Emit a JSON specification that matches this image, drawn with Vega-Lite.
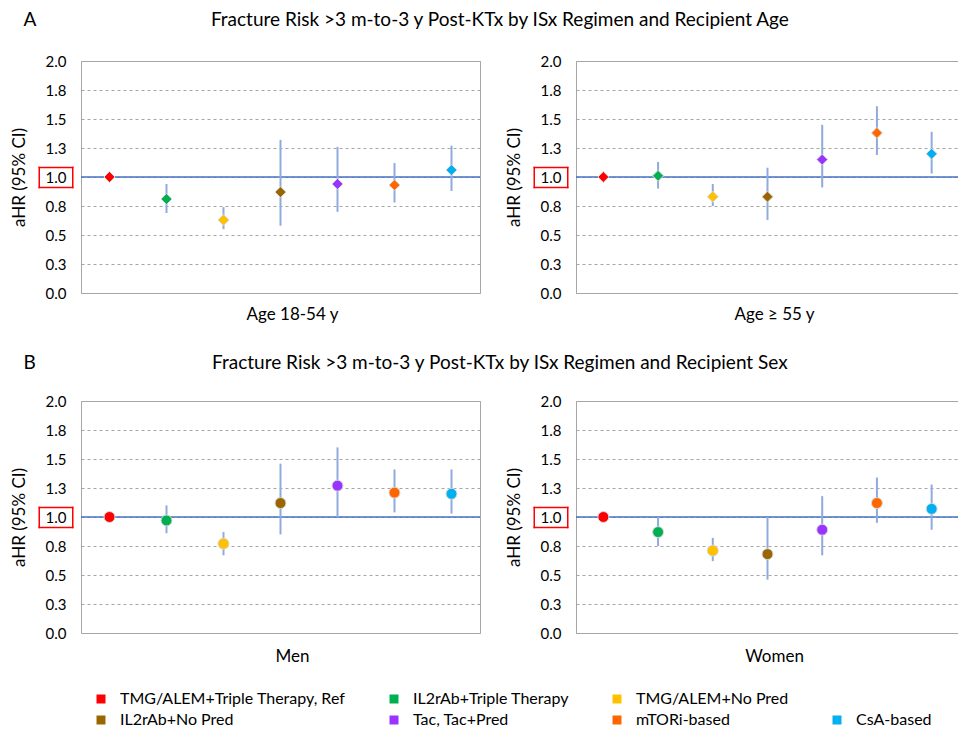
{
  "$schema": "https://vega.github.io/schema/vega-lite/v6.json",
  "padding": {"left": 9, "top": 10, "right": 0, "bottom": 0},
  "background": "white",
  "config": {
    "font": "Lato",
    "view": {"stroke": "#a6a6a6", "strokeWidth": 1},
    "title": {"fontWeight": "normal", "color": "#000", "fontSize": 19, "font": "Lato"},
    "axis": {"labelFont": "Lato", "titleFont": "Lato"},
    "legend": {"labelFont": "Lato"}
  },
  "data": {"values": [
    {"panel": "Age 18-54 y", "regimen": "TMG/ALEM+Triple Therapy, Ref", "ahr": 1.00, "lo": null, "hi": null},
    {"panel": "Age 18-54 y", "regimen": "IL2rAb+Triple Therapy", "ahr": 0.81, "lo": 0.69, "hi": 0.94},
    {"panel": "Age 18-54 y", "regimen": "TMG/ALEM+No Pred", "ahr": 0.63, "lo": 0.55, "hi": 0.74},
    {"panel": "Age 18-54 y", "regimen": "IL2rAb+No Pred", "ahr": 0.87, "lo": 0.58, "hi": 1.32},
    {"panel": "Age 18-54 y", "regimen": "Tac, Tac+Pred", "ahr": 0.94, "lo": 0.70, "hi": 1.26},
    {"panel": "Age 18-54 y", "regimen": "mTORi-based", "ahr": 0.93, "lo": 0.78, "hi": 1.12},
    {"panel": "Age 18-54 y", "regimen": "CsA-based", "ahr": 1.06, "lo": 0.88, "hi": 1.27},
    {"panel": "Age ≥ 55 y", "regimen": "TMG/ALEM+Triple Therapy, Ref", "ahr": 1.00, "lo": null, "hi": null},
    {"panel": "Age ≥ 55 y", "regimen": "IL2rAb+Triple Therapy", "ahr": 1.01, "lo": 0.90, "hi": 1.13},
    {"panel": "Age ≥ 55 y", "regimen": "TMG/ALEM+No Pred", "ahr": 0.83, "lo": 0.75, "hi": 0.94},
    {"panel": "Age ≥ 55 y", "regimen": "IL2rAb+No Pred", "ahr": 0.83, "lo": 0.63, "hi": 1.08},
    {"panel": "Age ≥ 55 y", "regimen": "Tac, Tac+Pred", "ahr": 1.15, "lo": 0.91, "hi": 1.45},
    {"panel": "Age ≥ 55 y", "regimen": "mTORi-based", "ahr": 1.38, "lo": 1.19, "hi": 1.61},
    {"panel": "Age ≥ 55 y", "regimen": "CsA-based", "ahr": 1.20, "lo": 1.03, "hi": 1.39},
    {"panel": "Men", "regimen": "TMG/ALEM+Triple Therapy, Ref", "ahr": 1.00, "lo": null, "hi": null},
    {"panel": "Men", "regimen": "IL2rAb+Triple Therapy", "ahr": 0.97, "lo": 0.86, "hi": 1.10},
    {"panel": "Men", "regimen": "TMG/ALEM+No Pred", "ahr": 0.77, "lo": 0.67, "hi": 0.87},
    {"panel": "Men", "regimen": "IL2rAb+No Pred", "ahr": 1.12, "lo": 0.85, "hi": 1.46},
    {"panel": "Men", "regimen": "Tac, Tac+Pred", "ahr": 1.27, "lo": 1.00, "hi": 1.60},
    {"panel": "Men", "regimen": "mTORi-based", "ahr": 1.21, "lo": 1.04, "hi": 1.41},
    {"panel": "Men", "regimen": "CsA-based", "ahr": 1.20, "lo": 1.03, "hi": 1.41},
    {"panel": "Women", "regimen": "TMG/ALEM+Triple Therapy, Ref", "ahr": 1.00, "lo": null, "hi": null},
    {"panel": "Women", "regimen": "IL2rAb+Triple Therapy", "ahr": 0.87, "lo": 0.75, "hi": 1.00},
    {"panel": "Women", "regimen": "TMG/ALEM+No Pred", "ahr": 0.71, "lo": 0.62, "hi": 0.82},
    {"panel": "Women", "regimen": "IL2rAb+No Pred", "ahr": 0.68, "lo": 0.46, "hi": 1.00},
    {"panel": "Women", "regimen": "Tac, Tac+Pred", "ahr": 0.89, "lo": 0.67, "hi": 1.18},
    {"panel": "Women", "regimen": "mTORi-based", "ahr": 1.12, "lo": 0.95, "hi": 1.34},
    {"panel": "Women", "regimen": "CsA-based", "ahr": 1.07, "lo": 0.89, "hi": 1.28}
  ]},
  "spacing": 30,
  "vconcat": [
    {
      "title": {"text": "A", "anchor": "start", "frame": "bounds", "dx": 14, "dy": 19, "offset": 0, "fontSize": 19},
      "vconcat": [
        {
          "title": {"text": "Fracture Risk >3 m-to-3 y Post-KTx by ISx Regimen and Recipient Age", "anchor": "middle", "dx": 15, "offset": 24},
          "spacing": 22,
          "hconcat": [
            {
              "width": 399, "height": 232,
              "resolve": {"axis": {"y": "independent"}},
              "layer": [
                {"data": {"values": [{"ref": 1}]}, "mark": {"type": "rule", "color": "#4472C4", "strokeWidth": 1.5},
                 "encoding": {"y": {"field": "ref", "type": "quantitative", "scale": {"domain": [0, 2], "nice": false},
                   "axis": {"orient": "left", "title": "aHR (95% CI)", "titleX": -53, "values": [0, 0.25, 0.5, 0.75, 0.914, 1, 1.086, 1.25, 1.5, 1.75, 2], "labelExpr": "(datum.value === 0.914 || datum.value === 1.086) ? '' : format(datum.value, '.1f')", "labelOverlap": false, "grid": true, "gridDash": [3, 3], "gridColor": "#a6a6a6", "gridOpacity": {"condition": {"test": "datum.value === 0.914 || datum.value === 1.086", "value": 0}, "value": 1}, "ticks": true, "tickSize": 43, "tickDashOffset": -8, "tickColor": {"condition": {"test": "datum.value === 0.914 || datum.value === 1 || datum.value === 1.086", "value": "#FF0000"}, "value": "rgba(0,0,0,0)"}, "tickWidth": {"condition": {"test": "datum.value === 1", "value": 21.5}, "value": 1.5}, "tickDash": {"condition": {"test": "datum.value === 1", "value": [1.5, 32, 1.5, 100]}, "value": [35, 100]}, "domain": false, "labelPadding": -28, "labelFontSize": 15, "labelColor": "#000", "titleFontSize": 17, "titleFontWeight": "normal", "titleColor": "#000"}}}},
                {"transform": [{"filter": {"field": "panel", "equal": "Age 18-54 y"}}],
                 "mark": {"type": "rule", "color": "#8FAADC", "strokeWidth": 2},
                 "encoding": {
                   "x": {"field": "regimen", "type": "nominal", "scale": {"type": "point", "padding": 0.5, "domain": ["TMG/ALEM+Triple Therapy, Ref", "IL2rAb+Triple Therapy", "TMG/ALEM+No Pred", "IL2rAb+No Pred", "Tac, Tac+Pred", "mTORi-based", "CsA-based"]},
                     "axis": {"title": "Age 18-54 y", "titleX": 211, "labels": false, "ticks": false, "domain": false, "titleFontSize": 17, "titleFontWeight": "normal", "titleColor": "#000", "titlePadding": 13}},
                   "y": {"field": "lo", "type": "quantitative", "scale": {"domain": [0, 2], "nice": false}, "axis": null},
                   "y2": {"field": "hi"}}},
                {"transform": [{"filter": {"field": "panel", "equal": "Age 18-54 y"}}],
                 "mark": {"type": "point", "shape": "diamond", "filled": true, "size": 120, "stroke": "#d9d9d9", "strokeWidth": 1, "opacity": 1},
                 "encoding": {
                   "x": {"field": "regimen", "type": "nominal", "scale": {"type": "point", "padding": 0.5, "domain": ["TMG/ALEM+Triple Therapy, Ref", "IL2rAb+Triple Therapy", "TMG/ALEM+No Pred", "IL2rAb+No Pred", "Tac, Tac+Pred", "mTORi-based", "CsA-based"]},
                     "axis": {"title": "Age 18-54 y", "titleX": 211, "labels": false, "ticks": false, "domain": false, "titleFontSize": 17, "titleFontWeight": "normal", "titleColor": "#000", "titlePadding": 13}},
                   "y": {"field": "ahr", "type": "quantitative", "scale": {"domain": [0, 2], "nice": false}, "axis": null},
                   "color": {"field": "regimen", "type": "nominal",
                     "scale": {"domain": ["TMG/ALEM+Triple Therapy, Ref", "IL2rAb+Triple Therapy", "TMG/ALEM+No Pred", " ", "IL2rAb+No Pred", "Tac, Tac+Pred", "mTORi-based", "CsA-based"], "range": ["#FF0000", "#00B050", "#FFC000", "rgba(0,0,0,0)", "#996600", "#9933FF", "#FF6600", "#00B0F0"]},
                     "legend": {"title": null, "orient": "none", "legendX": 12, "legendY": 630, "direction": "horizontal", "columns": 4, "symbolType": "square", "symbolSize": 81, "symbolStrokeWidth": 0, "labelFontSize": 16, "labelColor": "#000", "labelLimit": 400, "labelOffset": 11, "rowPadding": 5, "columnPadding": 40}}}}
              ]
            },
            {
              "width": 383, "height": 232,
              "resolve": {"axis": {"y": "independent"}},
              "layer": [
                {"data": {"values": [{"ref": 1}]}, "mark": {"type": "rule", "color": "#4472C4", "strokeWidth": 1.5},
                 "encoding": {"y": {"field": "ref", "type": "quantitative", "scale": {"domain": [0, 2], "nice": false},
                   "axis": {"orient": "left", "title": "aHR (95% CI)", "titleX": -53, "values": [0, 0.25, 0.5, 0.75, 0.914, 1, 1.086, 1.25, 1.5, 1.75, 2], "labelExpr": "(datum.value === 0.914 || datum.value === 1.086) ? '' : format(datum.value, '.1f')", "labelOverlap": false, "grid": true, "gridDash": [3, 3], "gridColor": "#a6a6a6", "gridOpacity": {"condition": {"test": "datum.value === 0.914 || datum.value === 1.086", "value": 0}, "value": 1}, "ticks": true, "tickSize": 43, "tickDashOffset": -8, "tickColor": {"condition": {"test": "datum.value === 0.914 || datum.value === 1 || datum.value === 1.086", "value": "#FF0000"}, "value": "rgba(0,0,0,0)"}, "tickWidth": {"condition": {"test": "datum.value === 1", "value": 21.5}, "value": 1.5}, "tickDash": {"condition": {"test": "datum.value === 1", "value": [1.5, 32, 1.5, 100]}, "value": [35, 100]}, "domain": false, "labelPadding": -28, "labelFontSize": 15, "labelColor": "#000", "titleFontSize": 17, "titleFontWeight": "normal", "titleColor": "#000"}}}},
                {"transform": [{"filter": {"field": "panel", "equal": "Age ≥ 55 y"}}],
                 "mark": {"type": "rule", "color": "#8FAADC", "strokeWidth": 2},
                 "encoding": {
                   "x": {"field": "regimen", "type": "nominal", "scale": {"type": "point", "padding": 0.5, "domain": ["TMG/ALEM+Triple Therapy, Ref", "IL2rAb+Triple Therapy", "TMG/ALEM+No Pred", "IL2rAb+No Pred", "Tac, Tac+Pred", "mTORi-based", "CsA-based"]},
                     "axis": {"title": "Age ≥ 55 y", "titleX": 198, "labels": false, "ticks": false, "domain": false, "titleFontSize": 17, "titleFontWeight": "normal", "titleColor": "#000", "titlePadding": 13}},
                   "y": {"field": "lo", "type": "quantitative", "scale": {"domain": [0, 2], "nice": false}, "axis": null},
                   "y2": {"field": "hi"}}},
                {"transform": [{"filter": {"field": "panel", "equal": "Age ≥ 55 y"}}],
                 "mark": {"type": "point", "shape": "diamond", "filled": true, "size": 120, "stroke": "#d9d9d9", "strokeWidth": 1, "opacity": 1},
                 "encoding": {
                   "x": {"field": "regimen", "type": "nominal", "scale": {"type": "point", "padding": 0.5, "domain": ["TMG/ALEM+Triple Therapy, Ref", "IL2rAb+Triple Therapy", "TMG/ALEM+No Pred", "IL2rAb+No Pred", "Tac, Tac+Pred", "mTORi-based", "CsA-based"]},
                     "axis": {"title": "Age ≥ 55 y", "titleX": 198, "labels": false, "ticks": false, "domain": false, "titleFontSize": 17, "titleFontWeight": "normal", "titleColor": "#000", "titlePadding": 13}},
                   "y": {"field": "ahr", "type": "quantitative", "scale": {"domain": [0, 2], "nice": false}, "axis": null},
                   "color": {"field": "regimen", "type": "nominal",
                     "scale": {"domain": ["TMG/ALEM+Triple Therapy, Ref", "IL2rAb+Triple Therapy", "TMG/ALEM+No Pred", " ", "IL2rAb+No Pred", "Tac, Tac+Pred", "mTORi-based", "CsA-based"], "range": ["#FF0000", "#00B050", "#FFC000", "rgba(0,0,0,0)", "#996600", "#9933FF", "#FF6600", "#00B0F0"]},
                     "legend": {"title": null, "orient": "none", "legendX": 12, "legendY": 630, "direction": "horizontal", "columns": 4, "symbolType": "square", "symbolSize": 81, "symbolStrokeWidth": 0, "labelFontSize": 16, "labelColor": "#000", "labelLimit": 400, "labelOffset": 11, "rowPadding": 5, "columnPadding": 40}}}}
              ]
            }
          ]
        }
      ]
    },
    {
      "title": {"text": "B", "anchor": "start", "frame": "bounds", "dx": 14, "dy": 19, "offset": 0, "fontSize": 19},
      "vconcat": [
        {
          "title": {"text": "Fracture Risk >3 m-to-3 y Post-KTx by ISx Regimen and Recipient Sex", "anchor": "middle", "dx": 15, "offset": 21},
          "spacing": 22,
          "hconcat": [
            {
              "width": 399, "height": 232,
              "resolve": {"axis": {"y": "independent"}},
              "layer": [
                {"data": {"values": [{"ref": 1}]}, "mark": {"type": "rule", "color": "#4472C4", "strokeWidth": 1.5},
                 "encoding": {"y": {"field": "ref", "type": "quantitative", "scale": {"domain": [0, 2], "nice": false},
                   "axis": {"orient": "left", "title": "aHR (95% CI)", "titleX": -53, "values": [0, 0.25, 0.5, 0.75, 0.914, 1, 1.086, 1.25, 1.5, 1.75, 2], "labelExpr": "(datum.value === 0.914 || datum.value === 1.086) ? '' : format(datum.value, '.1f')", "labelOverlap": false, "grid": true, "gridDash": [3, 3], "gridColor": "#a6a6a6", "gridOpacity": {"condition": {"test": "datum.value === 0.914 || datum.value === 1.086", "value": 0}, "value": 1}, "ticks": true, "tickSize": 43, "tickDashOffset": -8, "tickColor": {"condition": {"test": "datum.value === 0.914 || datum.value === 1 || datum.value === 1.086", "value": "#FF0000"}, "value": "rgba(0,0,0,0)"}, "tickWidth": {"condition": {"test": "datum.value === 1", "value": 21.5}, "value": 1.5}, "tickDash": {"condition": {"test": "datum.value === 1", "value": [1.5, 32, 1.5, 100]}, "value": [35, 100]}, "domain": false, "labelPadding": -28, "labelFontSize": 15, "labelColor": "#000", "titleFontSize": 17, "titleFontWeight": "normal", "titleColor": "#000"}}}},
                {"transform": [{"filter": {"field": "panel", "equal": "Men"}}],
                 "mark": {"type": "rule", "color": "#8FAADC", "strokeWidth": 2},
                 "encoding": {
                   "x": {"field": "regimen", "type": "nominal", "scale": {"type": "point", "padding": 0.5, "domain": ["TMG/ALEM+Triple Therapy, Ref", "IL2rAb+Triple Therapy", "TMG/ALEM+No Pred", "IL2rAb+No Pred", "Tac, Tac+Pred", "mTORi-based", "CsA-based"]},
                     "axis": {"title": "Men", "titleX": 211, "labels": false, "ticks": false, "domain": false, "titleFontSize": 17, "titleFontWeight": "normal", "titleColor": "#000", "titlePadding": 15}},
                   "y": {"field": "lo", "type": "quantitative", "scale": {"domain": [0, 2], "nice": false}, "axis": null},
                   "y2": {"field": "hi"}}},
                {"transform": [{"filter": {"field": "panel", "equal": "Men"}}],
                 "mark": {"type": "point", "shape": "circle", "filled": true, "size": 120, "stroke": "#d9d9d9", "strokeWidth": 1, "opacity": 1},
                 "encoding": {
                   "x": {"field": "regimen", "type": "nominal", "scale": {"type": "point", "padding": 0.5, "domain": ["TMG/ALEM+Triple Therapy, Ref", "IL2rAb+Triple Therapy", "TMG/ALEM+No Pred", "IL2rAb+No Pred", "Tac, Tac+Pred", "mTORi-based", "CsA-based"]},
                     "axis": {"title": "Men", "titleX": 211, "labels": false, "ticks": false, "domain": false, "titleFontSize": 17, "titleFontWeight": "normal", "titleColor": "#000", "titlePadding": 15}},
                   "y": {"field": "ahr", "type": "quantitative", "scale": {"domain": [0, 2], "nice": false}, "axis": null},
                   "color": {"field": "regimen", "type": "nominal",
                     "scale": {"domain": ["TMG/ALEM+Triple Therapy, Ref", "IL2rAb+Triple Therapy", "TMG/ALEM+No Pred", " ", "IL2rAb+No Pred", "Tac, Tac+Pred", "mTORi-based", "CsA-based"], "range": ["#FF0000", "#00B050", "#FFC000", "rgba(0,0,0,0)", "#996600", "#9933FF", "#FF6600", "#00B0F0"]},
                     "legend": {"title": null, "orient": "none", "legendX": 12, "legendY": 630, "direction": "horizontal", "columns": 4, "symbolType": "square", "symbolSize": 81, "symbolStrokeWidth": 0, "labelFontSize": 16, "labelColor": "#000", "labelLimit": 400, "labelOffset": 11, "rowPadding": 5, "columnPadding": 40}}}}
              ]
            },
            {
              "width": 383, "height": 232,
              "resolve": {"axis": {"y": "independent"}},
              "layer": [
                {"data": {"values": [{"ref": 1}]}, "mark": {"type": "rule", "color": "#4472C4", "strokeWidth": 1.5},
                 "encoding": {"y": {"field": "ref", "type": "quantitative", "scale": {"domain": [0, 2], "nice": false},
                   "axis": {"orient": "left", "title": "aHR (95% CI)", "titleX": -53, "values": [0, 0.25, 0.5, 0.75, 0.914, 1, 1.086, 1.25, 1.5, 1.75, 2], "labelExpr": "(datum.value === 0.914 || datum.value === 1.086) ? '' : format(datum.value, '.1f')", "labelOverlap": false, "grid": true, "gridDash": [3, 3], "gridColor": "#a6a6a6", "gridOpacity": {"condition": {"test": "datum.value === 0.914 || datum.value === 1.086", "value": 0}, "value": 1}, "ticks": true, "tickSize": 43, "tickDashOffset": -8, "tickColor": {"condition": {"test": "datum.value === 0.914 || datum.value === 1 || datum.value === 1.086", "value": "#FF0000"}, "value": "rgba(0,0,0,0)"}, "tickWidth": {"condition": {"test": "datum.value === 1", "value": 21.5}, "value": 1.5}, "tickDash": {"condition": {"test": "datum.value === 1", "value": [1.5, 32, 1.5, 100]}, "value": [35, 100]}, "domain": false, "labelPadding": -28, "labelFontSize": 15, "labelColor": "#000", "titleFontSize": 17, "titleFontWeight": "normal", "titleColor": "#000"}}}},
                {"transform": [{"filter": {"field": "panel", "equal": "Women"}}],
                 "mark": {"type": "rule", "color": "#8FAADC", "strokeWidth": 2},
                 "encoding": {
                   "x": {"field": "regimen", "type": "nominal", "scale": {"type": "point", "padding": 0.5, "domain": ["TMG/ALEM+Triple Therapy, Ref", "IL2rAb+Triple Therapy", "TMG/ALEM+No Pred", "IL2rAb+No Pred", "Tac, Tac+Pred", "mTORi-based", "CsA-based"]},
                     "axis": {"title": "Women", "titleX": 198, "labels": false, "ticks": false, "domain": false, "titleFontSize": 17, "titleFontWeight": "normal", "titleColor": "#000", "titlePadding": 15}},
                   "y": {"field": "lo", "type": "quantitative", "scale": {"domain": [0, 2], "nice": false}, "axis": null},
                   "y2": {"field": "hi"}}},
                {"transform": [{"filter": {"field": "panel", "equal": "Women"}}],
                 "mark": {"type": "point", "shape": "circle", "filled": true, "size": 120, "stroke": "#d9d9d9", "strokeWidth": 1, "opacity": 1},
                 "encoding": {
                   "x": {"field": "regimen", "type": "nominal", "scale": {"type": "point", "padding": 0.5, "domain": ["TMG/ALEM+Triple Therapy, Ref", "IL2rAb+Triple Therapy", "TMG/ALEM+No Pred", "IL2rAb+No Pred", "Tac, Tac+Pred", "mTORi-based", "CsA-based"]},
                     "axis": {"title": "Women", "titleX": 198, "labels": false, "ticks": false, "domain": false, "titleFontSize": 17, "titleFontWeight": "normal", "titleColor": "#000", "titlePadding": 15}},
                   "y": {"field": "ahr", "type": "quantitative", "scale": {"domain": [0, 2], "nice": false}, "axis": null},
                   "color": {"field": "regimen", "type": "nominal",
                     "scale": {"domain": ["TMG/ALEM+Triple Therapy, Ref", "IL2rAb+Triple Therapy", "TMG/ALEM+No Pred", " ", "IL2rAb+No Pred", "Tac, Tac+Pred", "mTORi-based", "CsA-based"], "range": ["#FF0000", "#00B050", "#FFC000", "rgba(0,0,0,0)", "#996600", "#9933FF", "#FF6600", "#00B0F0"]},
                     "legend": {"title": null, "orient": "none", "legendX": 12, "legendY": 630, "direction": "horizontal", "columns": 4, "symbolType": "square", "symbolSize": 81, "symbolStrokeWidth": 0, "labelFontSize": 16, "labelColor": "#000", "labelLimit": 400, "labelOffset": 11, "rowPadding": 5, "columnPadding": 40}}}}
              ]
            }
          ]
        }
      ]
    }
  ]
}
